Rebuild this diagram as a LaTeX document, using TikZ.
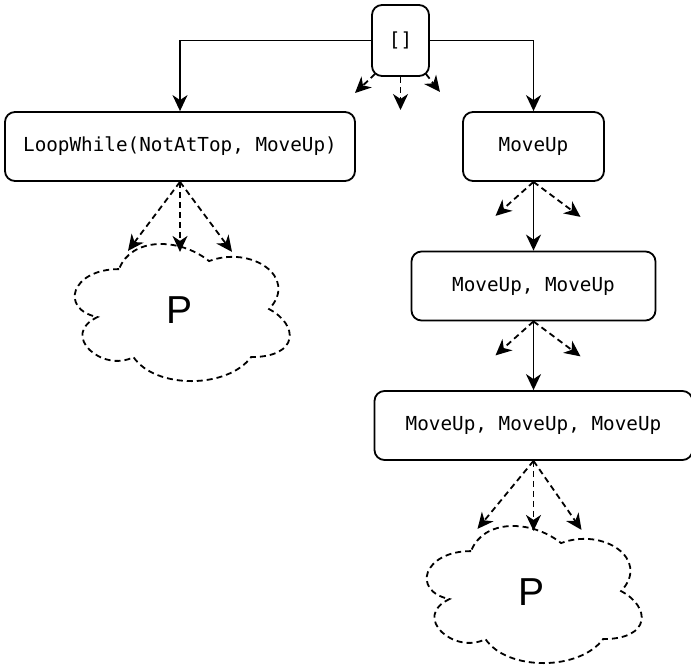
\documentclass[tikz,border=0pt]{standalone}
\usepackage{fontspec}
\setmonofont{DejaVu Sans Mono}
\setsansfont{Liberation Sans}
\usepackage{tikz}
\usetikzlibrary{arrows.meta,calc}

% dashed outline of a cloud round node #1
\newcommand{\cloudline}[1]{%
  \draw[dashy,shift={(#1.north west)},x=240pt,y=-160pt]
    (0.25,0.25) .. controls (0.05,0.25) and (0,0.5) .. (0.16,0.55)
    .. controls (0,0.66) and (0.18,0.9) .. (0.31,0.8)
    .. controls (0.4,1) and (0.7,1) .. (0.8,0.8)
    .. controls (1,0.8) and (1,0.6) .. (0.875,0.5)
    .. controls (1,0.3) and (0.8,0.1) .. (0.625,0.2)
    .. controls (0.5,0.05) and (0.3,0.05) .. (0.25,0.25) -- cycle;}

\begin{document}
\begin{tikzpicture}[x=1pt,y=1pt,line width=1.8pt,
    >={Stealth[length=16pt,width=15pt,inset=5pt]}]
      \tikzstyle{every node}=[node distance=139.5pt,font=\ttfamily\fontsize{19.3}{23}\selectfont]
      \tikzstyle{box}=[draw,rounded corners=10pt,inner sep=0pt,minimum height=69pt]
      \tikzstyle{cloud}=[inner sep=0pt,minimum width=240pt,minimum height=160pt,
        font=\sffamily\fontsize{39}{44}\selectfont]
      \tikzstyle{dashy}=[dash pattern=on 6pt off 4pt]
      \useasboundingbox (0,0) rectangle (691,-669);
      % 
      \node [box,minimum width=57pt,minimum height=71pt] (top) at (400.5,-40.5) {[]};
      \node [box,minimum width=350pt] (loop) at (180,-146.5) {LoopWhile(NotAtTop, MoveUp)};
      \node [box,minimum width=141pt] (mu1) at (533.5,-146.5) {MoveUp};
      \node [box,minimum width=244pt] (mu2) [below of=mu1] {MoveUp, MoveUp};
      \node [box,minimum width=318pt] (mu3) [below of=mu2] {MoveUp, MoveUp, MoveUp};
      \node [cloud] (pl) at (180,-310) {P};
      \node [cloud] (pr) at (532,-592) {P};
      \cloudline{pl}
      \cloudline{pr}
      % 
      \coordinate (t1) at (355,-93);
      \coordinate (t2) at (400.5,-110);
      \coordinate (t3) at (440,-92);
      \coordinate (l1) at ($(loop.south)+(-52,-69)$);
      \coordinate (l2) at ($(loop.south)+(0,-70)$);
      \coordinate (l3) at ($(loop.south)+(52,-70)$);
      \coordinate (a1) at ($(mu1.south)+(-38,-34)$);
      \coordinate (a2) at ($(mu1.south)+(47,-35)$);
      \coordinate (b1) at ($(mu2.south)+(-38,-34)$);
      \coordinate (b2) at ($(mu2.south)+(47,-35)$);
      \coordinate (c1) at ($(mu3.south)+(-56,-68)$);
      \coordinate (c2) at ($(mu3.south)+(0,-70)$);
      \coordinate (c3) at ($(mu3.south)+(48,-69)$);
      % 
      \draw[->] (top.west) -| (loop.north);
      \draw[->] (top.east) -| (mu1.north);
      \path[->]
      (mu1) edge (mu2)
      (mu2) edge (mu3);
      \path[->,dashy]
      ($(top.south west)+(4,3)$) edge (t1)
      (top.south) edge (t2)
      ($(top.south east)+(-4,3)$) edge (t3)
      (loop.south) edge (l1) edge (l2) edge (l3)
      (mu1.south) edge (a1) edge (a2)
      (mu2.south) edge (b1) edge (b2)
      (mu3.south) edge (c1) edge (c2) edge (c3);
    \end{tikzpicture}
\end{document}
